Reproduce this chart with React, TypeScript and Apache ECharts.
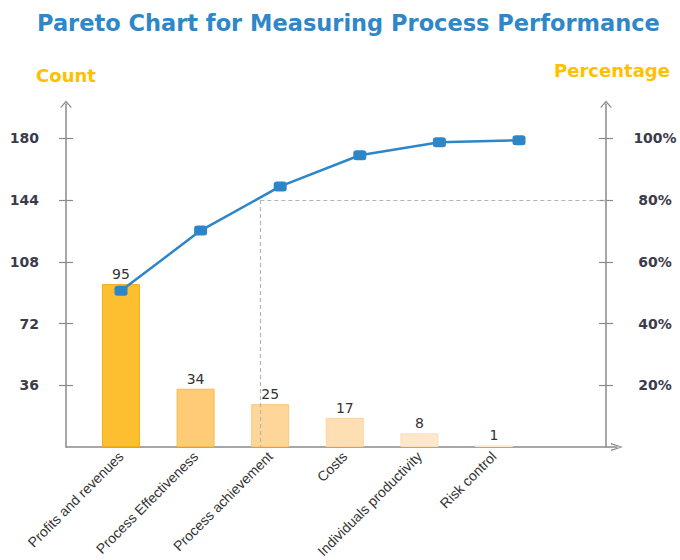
import React, { useEffect, useRef } from 'react';
import * as echarts from 'echarts';

const titleText = 'Pareto Chart for Measuring Process Performance';
const categories = [
  'Profits and revenues',
  'Process Effectiveness',
  'Process achievement',
  'Costs',
  'Individuals productivity',
  'Risk control',
];
const counts = [95, 34, 25, 17, 8, 1];
const cumulativePct = [50.6, 70.1, 84.4, 94.5, 98.7, 99.4];
const countTicks = [36, 72, 108, 144, 180];
const pctTicks = [20, 40, 60, 80, 100];
const barColors = ['#FDBF2F', '#FECB76', '#FED69A', '#FEDEB3', '#FEE7CB', '#FFF0DF'];
const barBorders = ['#F3AC1A', '#F8BB55', '#FAC87E', '#FBD4A0', '#FBDDBA', '#FCE8D2'];
const cutoffPct = 80;
const cutoffX = 1.75;
const cutoffEndX = 6.09;

const FONT = 'DejaVu Sans';
const AXIS_COLOR = '#8a8a8a';
const LABEL_COLOR = '#3b3b4b';
const yArrow = 'path://M0,7 L6,0 L12,7 L10.4,7 L6,1.9 L1.6,7 Z';
const xArrow = 'path://M0,12 L4,0 L8,12 L6.6,12 L4,2.6 L1.4,12 Z';

export default function App() {
  const ref = useRef<HTMLDivElement>(null);
  useEffect(() => {
    if (!ref.current) return;
    const chart = echarts.init(ref.current, null, { renderer: 'svg' });
    const barIdx = categories.map((_, i) => i);
    chart.setOption({
      animation: false,
      backgroundColor: '#ffffff',
      title: {
        text: titleText,
        left: 32,
        top: 6,
        textStyle: { color: '#2F87C8', fontSize: 22.5, fontWeight: 'bold', fontFamily: FONT },
      },
      grid: { left: 66, right: 63, top: 104, bottom: 113, outerBoundsMode: 'none' },
      xAxis: [
        {
          type: 'value',
          min: -0.737,
          max: 6.649,
          position: 'bottom',
          axisLine: { show: false, onZero: false },
          axisTick: { show: false },
          splitLine: { show: false },
          axisLabel: {
            customValues: barIdx,
            formatter: (v: number) => categories[Math.round(v)] ?? '',
            rotate: 45,
            margin: 7,
            fontSize: 14,
            color: '#333333',
            fontFamily: 'Liberation Sans',
          },
        },
        {
          type: 'value',
          min: -0.691,
          max: 6.231,
          position: 'bottom',
          axisLine: {
            show: true,
            onZero: false,
            symbol: ['none', xArrow],
            symbolSize: [8, 12],
            lineStyle: { color: AXIS_COLOR, width: 1.5 },
          },
          axisTick: { show: false },
          axisLabel: { show: false },
          splitLine: { show: false },
        },
      ],
      yAxis: [
        {
          type: 'value',
          min: 0,
          max: 200,
          position: 'left',
          name: 'Count',
          nameGap: 20,
          nameTextStyle: { color: '#FFC000', fontSize: 18, fontWeight: 'bold', fontFamily: FONT },
          axisLine: {
            show: true,
            onZero: false,
            symbol: ['none', yArrow],
            symbolSize: [12, 7],
            lineStyle: { color: AXIS_COLOR, width: 1.5 },
          },
          axisTick: { show: true, customValues: countTicks, length: 7, lineStyle: { color: AXIS_COLOR, width: 1.2 } },
          axisLabel: {
            customValues: countTicks,
            margin: 27,
            fontSize: 14,
            fontWeight: 'bold',
            color: LABEL_COLOR,
            fontFamily: FONT,
          },
          splitLine: { show: false },
        },
        {
          type: 'value',
          min: 0,
          max: 111.111,
          position: 'right',
          offset: -11,
          name: 'Percentage',
          nameGap: 25,
          nameTextStyle: {
            color: '#FFC000',
            fontSize: 18,
            fontWeight: 'bold',
            fontFamily: FONT,
            padding: [0, 0, 0, 12],
          },
          axisLine: {
            show: true,
            onZero: false,
            symbol: ['none', yArrow],
            symbolSize: [12, 7],
            lineStyle: { color: AXIS_COLOR, width: 1.5 },
          },
          axisTick: { show: true, customValues: pctTicks, length: 7, lineStyle: { color: AXIS_COLOR, width: 1.2 } },
          axisLabel: {
            customValues: pctTicks,
            formatter: '{value}%',
            align: 'center',
            margin: 49,
            fontSize: 14,
            fontWeight: 'bold',
            color: LABEL_COLOR,
            fontFamily: FONT,
          },
          splitLine: { show: false },
        },
        {
          type: 'value',
          min: 0,
          max: 200,
          position: 'left',
          axisLine: { show: false, onZero: false },
          axisTick: { show: true, inside: true, customValues: countTicks, length: 7, lineStyle: { color: AXIS_COLOR, width: 1.2 } },
          axisLabel: { show: false },
          splitLine: { show: false },
        },
        {
          type: 'value',
          min: 0,
          max: 111.111,
          position: 'right',
          offset: -11,
          axisLine: { show: false, onZero: false },
          axisTick: { show: true, inside: true, customValues: pctTicks, length: 7, lineStyle: { color: AXIS_COLOR, width: 1.2 } },
          axisLabel: { show: false },
          splitLine: { show: false },
        },
      ],
      series: [
        {
          type: 'bar',
          xAxisIndex: 0,
          yAxisIndex: 0,
          barWidth: 38,
          data: counts.map((c, i) => ({
            value: [i, c],
            itemStyle: { color: barColors[i], borderColor: barBorders[i], borderWidth: 1 },
          })),
          label: {
            show: true,
            position: 'top',
            distance: 3,
            formatter: (p: any) => String(p.value[1]),
            fontSize: 14,
            color: '#333333',
            fontFamily: FONT,
          },
        },
        {
          type: 'line',
          xAxisIndex: 1,
          yAxisIndex: 1,
          data: cumulativePct.map((p, i) => [i, p]),
          symbol: 'roundRect',
          symbolSize: [13, 10],
          lineStyle: { color: '#2E86C8', width: 2.5 },
          itemStyle: { color: '#2E86C8' },
          z: 5,
          markLine: {
            silent: true,
            symbol: ['none', 'none'],
            label: { show: false },
            lineStyle: { color: '#b5b5b5', type: [4, 3], width: 1.2 },
            data: [
              [{ coord: [cutoffX, cutoffPct] }, { coord: [cutoffEndX, cutoffPct] }],
              [{ coord: [cutoffX, cutoffPct] }, { coord: [cutoffX, 0] }],
            ],
          },
        },
      ],
    });
    return () => chart.dispose();
  }, []);
  return <div ref={ref} style={{ position: 'fixed', left: 0, top: 0, width: 680, height: 560 }} />;
}
